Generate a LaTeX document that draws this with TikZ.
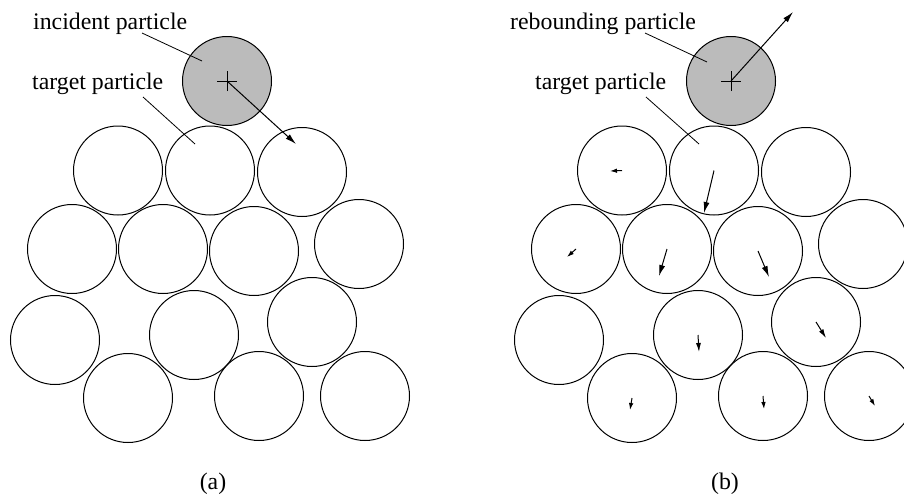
\documentclass[tikz,border=0pt]{standalone}
\usepackage{fontspec}
\setmainfont{Liberation Serif}
\usetikzlibrary{arrows.meta}
\definecolor{pgray}{RGB}{187,187,187}
\begin{document}
\begin{tikzpicture}[x=1pt,y=-1pt,
  particle/.style={circle,draw,line width=1pt,minimum size=89pt,inner sep=0pt},
  hitter/.style={particle,fill=pgray},
  lbl/.style={font=\fontsize{23.8}{28}\selectfont,inner sep=0pt,anchor=base west},
  captn/.style={font=\fontsize{23.8}{28}\selectfont,inner sep=0pt,anchor=base},
  leader/.style={line width=0.8pt},
  crossmark/.style={line width=0.9pt},
  vel/.style={line width=1pt,-{Latex[length=11pt,width=6pt]}},
  velmid/.style={line width=1pt,-{Latex[length=9pt,width=5pt]}},
  velsmall/.style={line width=1pt,-{Latex[length=7pt,width=4.5pt]}}]
\useasboundingbox (0,0) rectangle (904,498);

% ---------- panel (a) ----------
\node[hitter]   (a0)  at (227,81) {};
\node[particle] (a1)  at (118,170.5) {};
\node[particle] (a2)  at (210,170.5) {};
\node[particle] (a3)  at (302,172) {};
\node[particle] (a4)  at (72,249) {};
\node[particle] (a5)  at (163,249) {};
\node[particle] (a6)  at (254,251) {};
\node[particle] (a7)  at (359,244) {};
\node[particle] (a8)  at (55,340) {};
\node[particle] (a9)  at (194,335) {};
\node[particle] (a10) at (312,322) {};
\node[particle] (a11) at (128,398) {};
\node[particle] (a12) at (259,396) {};
\node[particle] (a13) at (365,396) {};

\draw[crossmark] ([xshift=-10pt]a0.center) -- ([xshift=10pt]a0.center);
\draw[crossmark] ([yshift=-10pt]a0.center) -- ([yshift=10pt]a0.center);
\coordinate (aTip) at (296,144);
\draw[vel] (a0.center) -- (aTip);

\node[lbl] (aInc) at (33,29) {incident particle};
\node[lbl] (aTar) at (32,89) {target particle};
\coordinate (aL1s) at (142,33);
\coordinate (aL1e) at (202,61);
\coordinate (aL2s) at (143,97);
\coordinate (aL2e) at (195,144);
\draw[leader] (aL1s) -- (aL1e);
\draw[leader] (aL2s) -- (aL2e);
\node[captn] (aCap) at (213,489) {(a)};

% ---------- panel (b) ----------
\node[hitter]   (b0)  at (731,81) {};
\node[particle] (b1)  at (622,170.5) {};
\node[particle] (b2)  at (714,170.5) {};
\node[particle] (b3)  at (806,172) {};
\node[particle] (b4)  at (576,249) {};
\node[particle] (b5)  at (667,249) {};
\node[particle] (b6)  at (758,251) {};
\node[particle] (b7)  at (863,244) {};
\node[particle] (b8)  at (559,340) {};
\node[particle] (b9)  at (698,335) {};
\node[particle] (b10) at (816,322) {};
\node[particle] (b11) at (632,398) {};
\node[particle] (b12) at (763,396) {};
\node[particle] (b13) at (869,396) {};

\draw[crossmark] ([xshift=-10pt]b0.center) -- ([xshift=10pt]b0.center);
\draw[crossmark] ([yshift=-10pt]b0.center) -- ([yshift=10pt]b0.center);
\coordinate (bTip0)  at (793,12);
\coordinate (bTip1)  at (610,171);
\coordinate (bTip2)  at (704,213);
\coordinate (bTip4)  at (567,257);
\coordinate (bTip5)  at (659,276);
\coordinate (bTip6)  at (769,277);
\coordinate (bTip9)  at (699,352);
\coordinate (bTip10) at (826,338);
\coordinate (bTip11) at (630,410);
\coordinate (bTip12) at (764,409);
\coordinate (bTip13) at (875,406);
\draw[vel]      (b0.center)  -- (bTip0);
\draw[velsmall] (b1.center)  -- (bTip1);
\draw[vel]      (b2.center)  -- (bTip2);
\draw[velsmall] (b4.center)  -- (bTip4);
\draw[vel]      (b5.center)  -- (bTip5);
\draw[vel]      (b6.center)  -- (bTip6);
\draw[velmid]   (b9.center)  -- (bTip9);
\draw[velmid]   (b10.center) -- (bTip10);
\draw[velsmall] (b11.center) -- (bTip11);
\draw[velsmall] (b12.center) -- (bTip12);
\draw[velsmall] (b13.center) -- (bTip13);

\node[lbl] (bReb) at (510,29) {rebounding particle};
\node[lbl] (bTar) at (535,89) {target particle};
\coordinate (bL1s) at (645,33);
\coordinate (bL1e) at (707,62);
\coordinate (bL2s) at (646,97);
\coordinate (bL2e) at (699,144);
\draw[leader] (bL1s) -- (bL1e);
\draw[leader] (bL2s) -- (bL2e);
\node[captn] (bCap) at (725,489) {(b)};
\end{tikzpicture}
\end{document}
